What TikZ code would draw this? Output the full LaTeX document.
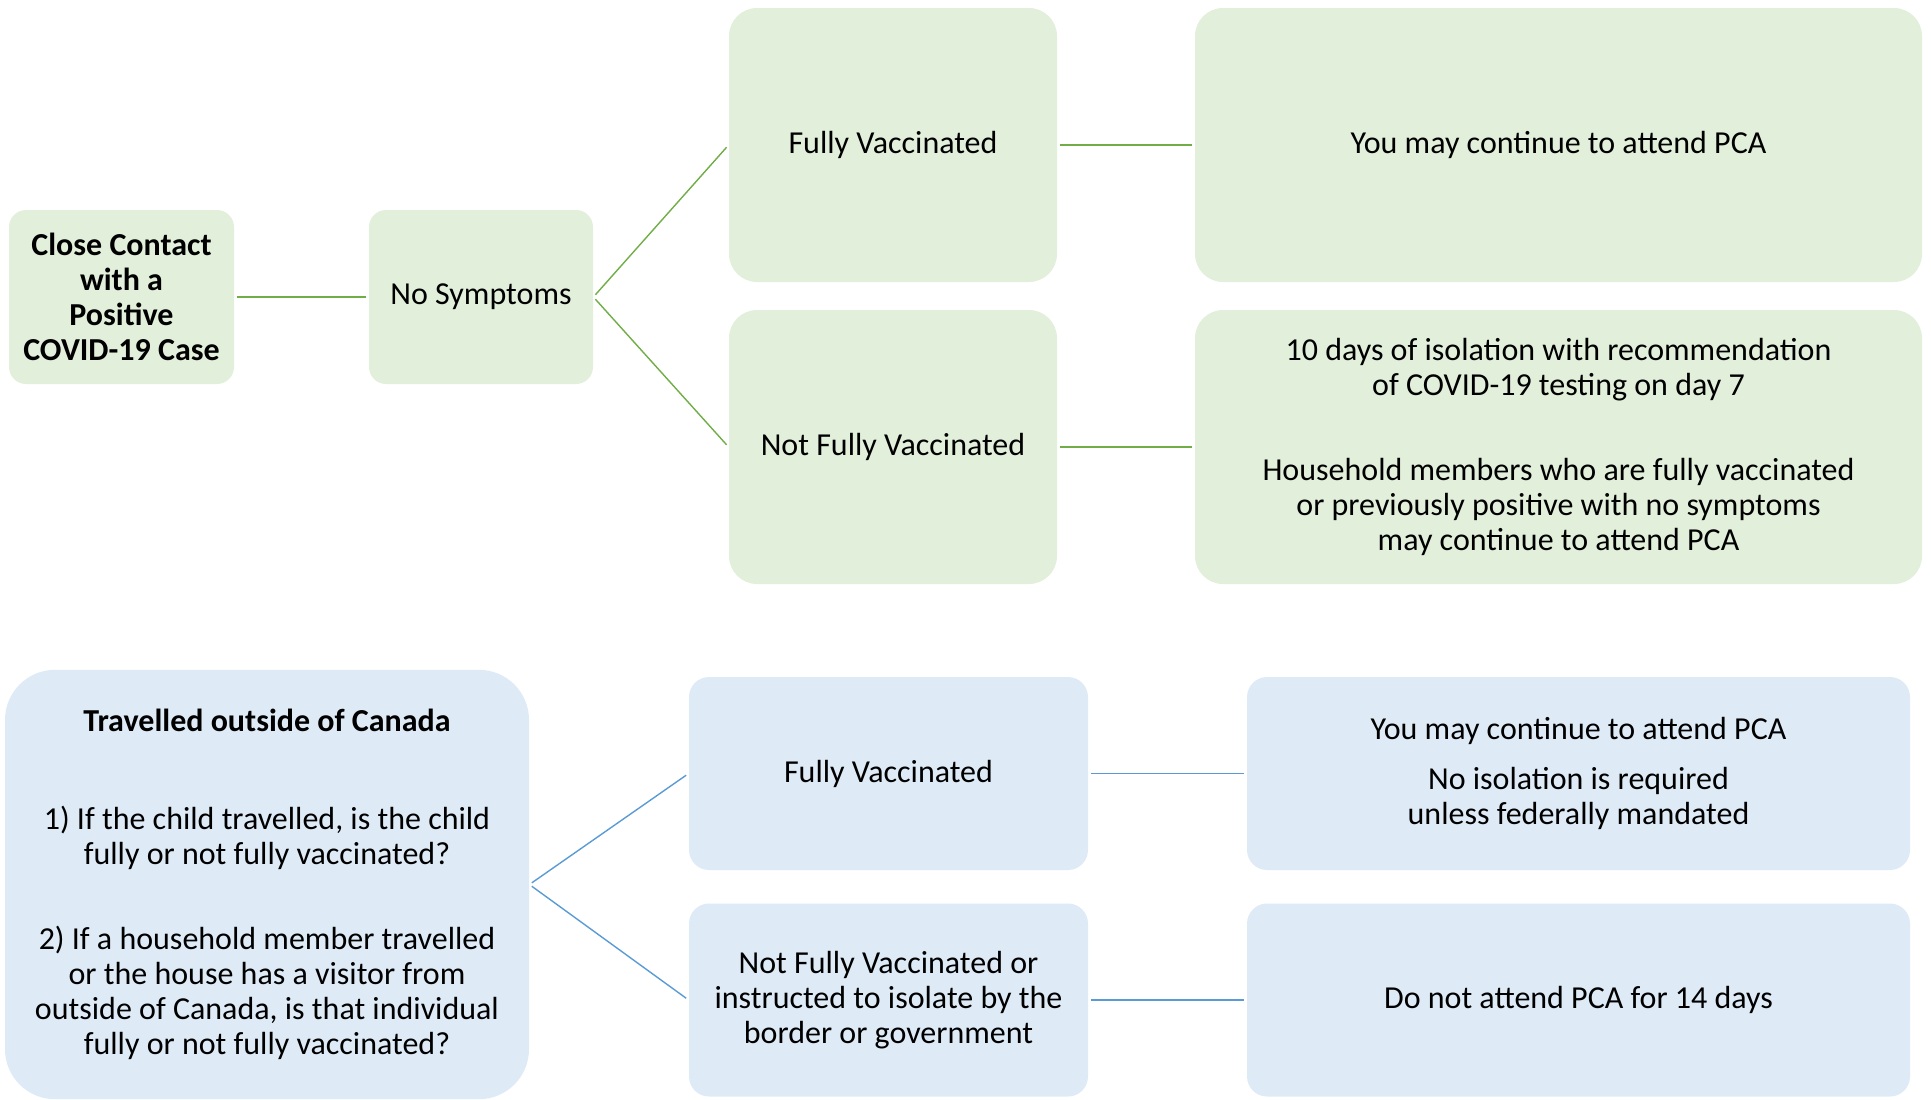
\documentclass[tikz,border=0pt]{standalone}
\usepackage{fontspec}
\setmainfont{Carlito}
\definecolor{gfill}{HTML}{E2EFDA}
\definecolor{gline}{HTML}{70AD47}
\definecolor{bfill}{HTML}{DEEBF7}
\definecolor{bline}{HTML}{5B9BD5}
\tikzset{
  box/.style={rectangle, draw=none, inner sep=0pt, align=center,
    font=\fontsize{16}{17.5}\selectfont},
  gbox/.style={box, fill=gfill},
  bbox/.style={box, fill=bfill},
  gconn/.style={draw=gline, line width=0.7pt, shorten <=1.5pt, shorten >=1.5pt},
  bconn/.style={draw=bline, line width=0.7pt, shorten <=1.5pt, shorten >=1.5pt},
}
\begin{document}
\begin{tikzpicture}[x=0.5pt,y=-0.5pt]
\useasboundingbox (0,0) rectangle (1931,1099);
% top (green) branch
\node[gbox, rounded corners=8.5pt, minimum width=112.5pt, minimum height=87pt] (cc) at (121.5,297)
  {\bfseries Close Contact\\ \bfseries with a\\ \bfseries Positive\\ \bfseries COVID-19 Case};
\node[gbox, rounded corners=8.5pt, minimum width=112pt, minimum height=87pt] (ns) at (481,297) {No Symptoms};
\node[gbox, rounded corners=14pt, minimum width=164pt, minimum height=137pt] (fv) at (893,145) {Fully Vaccinated};
\node[gbox, rounded corners=14pt, minimum width=164pt, minimum height=137pt] (nfv) at (893,447) {Not Fully Vaccinated};
\node[gbox, rounded corners=14pt, minimum width=363.5pt, minimum height=137pt] (r1) at (1558.5,145) {You may continue to attend PCA};
\node[gbox, rounded corners=14pt, minimum width=363.5pt, minimum height=137pt] (r2) at (1558.5,447)
  {10 days of isolation with recommendation\\ of COVID-19 testing on day 7\\[24.6pt]
   Household members who are fully vaccinated\\ or previously positive with no symptoms\\ may continue to attend PCA};
\draw[gconn] (cc.east) -- (ns.west);
\draw[gconn] (ns.east) -- (fv.west);
\draw[gconn] (ns.east) -- (nfv.west);
\draw[gconn] (fv.east) -- (r1.west);
\draw[gconn] (nfv.east) -- (r2.west);
% bottom (blue) branch
\node[bbox, rounded corners=25pt, minimum width=262pt, minimum height=214.7pt] (tr) at (267,884.5)
  {\bfseries Travelled outside of Canada\\[31.5pt]
   1) If the child travelled, is the child\\ fully or not fully vaccinated?\\[25pt]
   2) If a household member travelled\\ or the house has a visitor from\\ outside of Canada, is that individual\\ fully or not fully vaccinated?};
\node[bbox, rounded corners=10pt, minimum width=199.5pt, minimum height=96.5pt] (bfv) at (888.5,773.5) {Fully Vaccinated};
\node[bbox, rounded corners=10pt, minimum width=199.5pt, minimum height=96.5pt] (bnfv) at (888.5,1000)
  {Not Fully Vaccinated or\\ instructed to isolate by the\\ border or government};
\node[bbox, rounded corners=10pt, minimum width=331.5pt, minimum height=96.5pt] (br1) at (1578.5,773.5)
  {You may continue to attend PCA\\[7.25pt] No isolation is required\\ unless federally mandated};
\node[bbox, rounded corners=10pt, minimum width=331.5pt, minimum height=96.5pt] (br2) at (1578.5,1000) {Do not attend PCA for 14 days};
\draw[bconn] (tr.east) -- (bfv.west);
\draw[bconn] (tr.east) -- (bnfv.west);
\draw[bconn] (bfv.east) -- (br1.west);
\draw[bconn] (bnfv.east) -- (br2.west);
\end{tikzpicture}
\end{document}
